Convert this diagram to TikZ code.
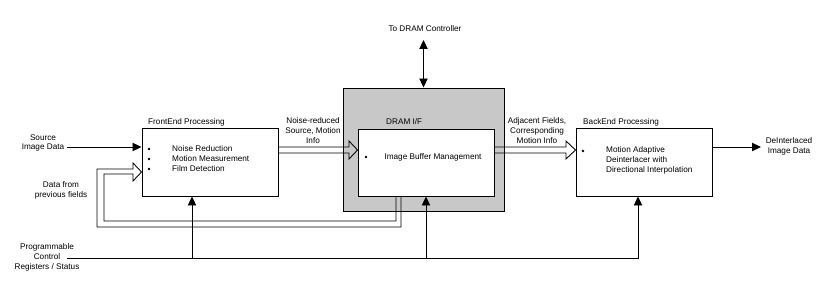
\documentclass[tikz,border=0pt]{standalone}
\usepackage{fontspec}
\setmainfont{Liberation Sans}
\usetikzlibrary{arrows.meta,calc,positioning}
\definecolor{dramgray}{RGB}{200,200,200}
\tikzset{
  block/.style={draw, line width=0.8pt, fill=white, minimum width=4.08cm, minimum height=2.04cm, inner sep=0pt},
  shell/.style={draw, line width=0.8pt, fill=dramgray, minimum width=4.83cm, minimum height=3.69cm, inner sep=0pt},
  title/.style={font=\fontsize{7}{8.5}\selectfont, anchor=west, inner sep=0pt},
  txt/.style={font=\fontsize{7}{8.5}\selectfont, align=center, inner sep=0pt},
  item/.style={font=\fontsize{7}{8.5}\selectfont, align=left, anchor=west, inner sep=0pt},
  dot/.style={circle, fill=black, inner sep=0pt, minimum size=2.3pt},
  sig/.style={line width=0.75pt, -{Triangle[length=2.7mm, width=2.5mm]}},
  sigboth/.style={line width=0.75pt, {Triangle[length=2.7mm, width=2.5mm]}-{Triangle[length=2.7mm, width=2.5mm]}},
  bus/.style={line width=0.75pt, line join=miter}
}

\begin{document}
\begin{tikzpicture}[x=0.03cm,y=-0.03cm]
  \useasboundingbox (0,0) rectangle (829,284);

  % blocks
  \node[shell] (dram) at (423.5,149.5) {};
  \node[block] (fe) at (210,162) {};
  \node[block, minimum height=2.01cm] (buf) at (426,162.5) {};
  \node[block] (be) at (644,162) {};

  \node[title] (fetitle) at (148,122) {FrontEnd Processing};
  \node[title] (dramtitle) at (386,122) {DRAM I/F};
  \node[title] (betitle) at (583,122) {BackEnd Processing};

  % block contents
  \foreach \y in {149,159,169}
    \node[dot] (fedot\y) at (149,\y) {};
  \node[item] (feitems) at (172,159) {Noise Reduction\\Motion Measurement\\Film Detection};
  \node[dot] (bufdot) at (366,157) {};
  \node[txt] (bufitem) at (433,157) {Image Buffer Management};
  \node[dot] (bedot) at (583,151) {};
  \node[item] (beitems) at (606,160) {Motion Adaptive\\Deinterlacer with\\Directional Interpolation};

  % outside labels
  \node[txt] (srclbl) at (43,143) {Source\\Image Data};
  \node[txt] (prevlbl) at (61,190) {Data from\\previous fields};
  \node[txt] (ctllbl) at (47,257) {Programmable\\Control\\Registers / Status};
  \node[txt] (dramctl) at (425,29) {To DRAM Controller};
  \node[txt] (nrlbl) at (313,131) {Noise-reduced\\Source, Motion\\Info};
  \node[txt] (adjlbl) at (537,131) {Adjacent Fields,\\Corresponding\\Motion Info};
  \node[txt] (outlbl) at (789,146) {DeInterlaced\\Image Data};

  \coordinate (srcin) at (67,147);
  \coordinate (ctlin) at (67,258);
  \coordinate (ctlport) at (dram.north |- 0,40);
  \coordinate (outtip) at (761,147);
  \coordinate (fetap) at ($(fe.south)+(-18,0)$);
  \coordinate (betap) at ($(be.south)+(-6,0)$);

  % signals
  \draw[sig] (srcin) -- (fe.west |- srcin);
  \draw[sig] (be.east |- outtip) -- (outtip);
  \draw[sigboth] (dram.north) -- (ctlport);
  \draw[sig] (ctlin) -| (betap);
  \draw[sig] (fetap |- ctlin) -- (fetap);
  \draw[sig] (buf.south |- ctlin) -- (buf.south);

  % buses
  \draw[bus] (fe.east |- 0,147) -- (349,147) -- (349,141) -- (buf.west |- 0,150)
    -- (349,159) -- (349,153) -- (fe.east |- 0,153);
  \draw[bus] (buf.east |- 0,147) -- (566,147) -- (566,141) -- (be.west |- 0,150)
    -- (566,159) -- (566,153) -- (buf.east |- 0,153);
  \draw[bus] (buf.south -| 401,0) -- (401,227) -- (97,227) -- (97,169) -- (133,169)
    -- (133,163) -- (fe.west |- 0,172) -- (133,181) -- (133,174) -- (104,174)
    -- (104,221) -- (396,221) -- (buf.south -| 396,0);
\end{tikzpicture}
\end{document}
